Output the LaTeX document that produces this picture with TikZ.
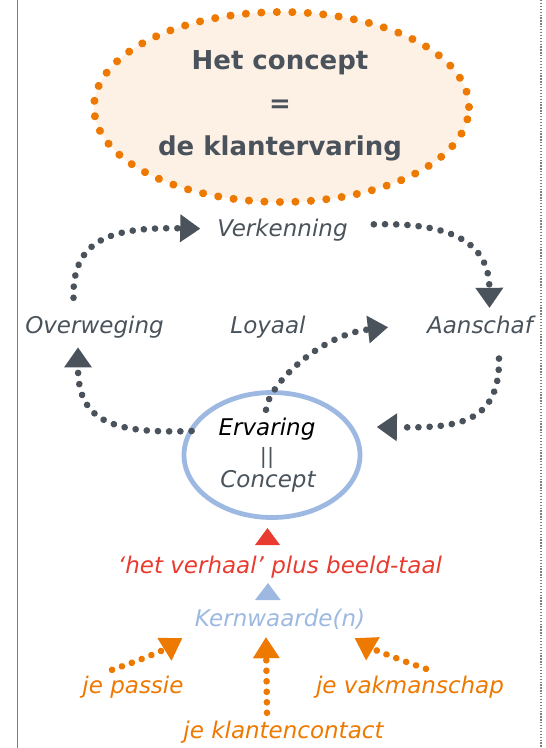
\documentclass[tikz,border=0pt]{standalone}
\usepackage{fontspec}
\setmainfont{DejaVu Sans}
\usetikzlibrary{shapes.geometric,arrows.meta,calc}
\definecolor{orangec}{RGB}{238,121,0}
\definecolor{orangefill}{RGB}{253,241,230}
\definecolor{grayc}{RGB}{74,83,91}
\definecolor{bluec}{RGB}{157,185,226}
\definecolor{redc}{RGB}{233,59,47}
\definecolor{bordergray}{RGB}{128,128,128}
\newcommand\handfnt{\fontsize{23}{26}\selectfont\itshape}
\newcommand\titlefnt{\fontsize{26}{30}\selectfont\bfseries}
\tikzset{
  gdots/.style={draw=grayc, line width=6.6pt, line cap=round, dash pattern=on 0.1pt off 11.1pt,
    -{Triangle[length=20pt,width=28pt,line width=0pt]}},
  odots/.style={draw=orangec, line width=6.6pt, line cap=round, dash pattern=on 0.1pt off 10.4pt,
    -{Triangle[length=21pt,width=27pt,line width=0pt]}},
  lbl/.style={font=\handfnt, text=grayc, inner sep=0pt, anchor=base},
  ttl/.style={font=\titlefnt, text=grayc, inner sep=0pt, anchor=base},
}
\begin{document}
\begin{tikzpicture}[x=1pt,y=-1pt]
\useasboundingbox (0,0) rectangle (546,748);
% borders
\draw[bordergray, line width=1.6pt] (17.5,0) -- (17.5,748);
\draw[bordergray, line width=1.3pt, dash pattern=on 1.3pt off 1.6pt] (541,0) -- (541,748);
% title ellipse
\node[ellipse, draw=orangec, fill=orangefill, line width=8pt, line cap=round,
      dash pattern=on 0.1pt off 15.4pt, minimum width=375pt, minimum height=190pt, inner sep=0pt]
      (concept) at (281.5,107) {};
\node[ttl] (t1) at (280,69) {Het concept};
\node[ttl] (t2) at (280,112) {=};
\node[ttl] (t3) at (280,155) {de klantervaring};
% cycle labels
\node[lbl] (verk) at (282.5,236.7) {Verkenning};
\node[lbl] (overw) at (94.5,333) {Overweging};
\node[lbl] (loyaal) at (268,333) {Loyaal};
\node[lbl] (aansch) at (480,333) {Aanschaf};
% experience ellipse
\node[ellipse, draw=bluec, line width=4.8pt, minimum width=176pt, minimum height=125pt, inner sep=0pt]
      (circ) at (272,455) {};
\node[lbl, text=black] (erv) at (267,435) {Ervaring};
\node[lbl, font=\fontsize{21}{24}\selectfont] (bars) at (267,463) {||};
\node[lbl] (conc) at (268,487) {Concept};
% cycle arrows
\draw[gdots] ($(overw.north)+(-21,-17.5)$) .. controls (72,240) and (110,227) .. ($(verk.west)+(-17,-1.7)$);
\draw[gdots] ($(verk.east)+(26,-6)$) .. controls (455,222) and (489,245) .. ($(aansch.north)+(9.5,-7.5)$);
\draw[gdots] ($(erv.north)+(-1,-7.5)$) .. controls (268,385) and (320,335) .. ($(aansch.west)+(-39,2.8)$);
\draw[gdots] ($(aansch.south)+(19,25)$) .. controls (500,425) and (455,428) .. ($(circ.east)+(14.5,-28)$);
\draw[gdots] ($(circ.west)+(10,-24)$) .. controls (110,434) and (78,420) .. ($(overw.south)+(-16.5,9.5)$);
% lower part
\node[lbl, text=redc] (verhaal) at (280,573) {‘het verhaal’ plus beeld-taal};
\node[lbl, text=bluec] (kern) at (280,626) {Kernwaarde(n)};
\fill[redc] (255,545) -- (280,545) -- (267.5,528) -- cycle;
\fill[bluec] (255,600) -- (280.7,600) -- (268,583) -- cycle;
\node[lbl, text=orangec] (passie) at (133,693) {je passie};
\node[lbl, text=orangec] (vak) at (410,693) {je vakmanschap};
\node[lbl, text=orangec] (klant) at (283.5,738) {je klantencontact};
\draw[odots] ($(passie.north)+(-21,-5.5)$) .. controls (135,662) and (160,652) .. ($(kern.south west)+(-12.5,9)$);
\draw[odots] ($(klant.north)+(-16.5,-7.5)$) -- ($(kern.south)+(-14,8)$);
\draw[odots] ($(vak.north)+(16,-6.5)$) .. controls (400,660) and (375,650) .. ($(kern.south east)+(-10.5,9)$);
\end{tikzpicture}
\end{document}
